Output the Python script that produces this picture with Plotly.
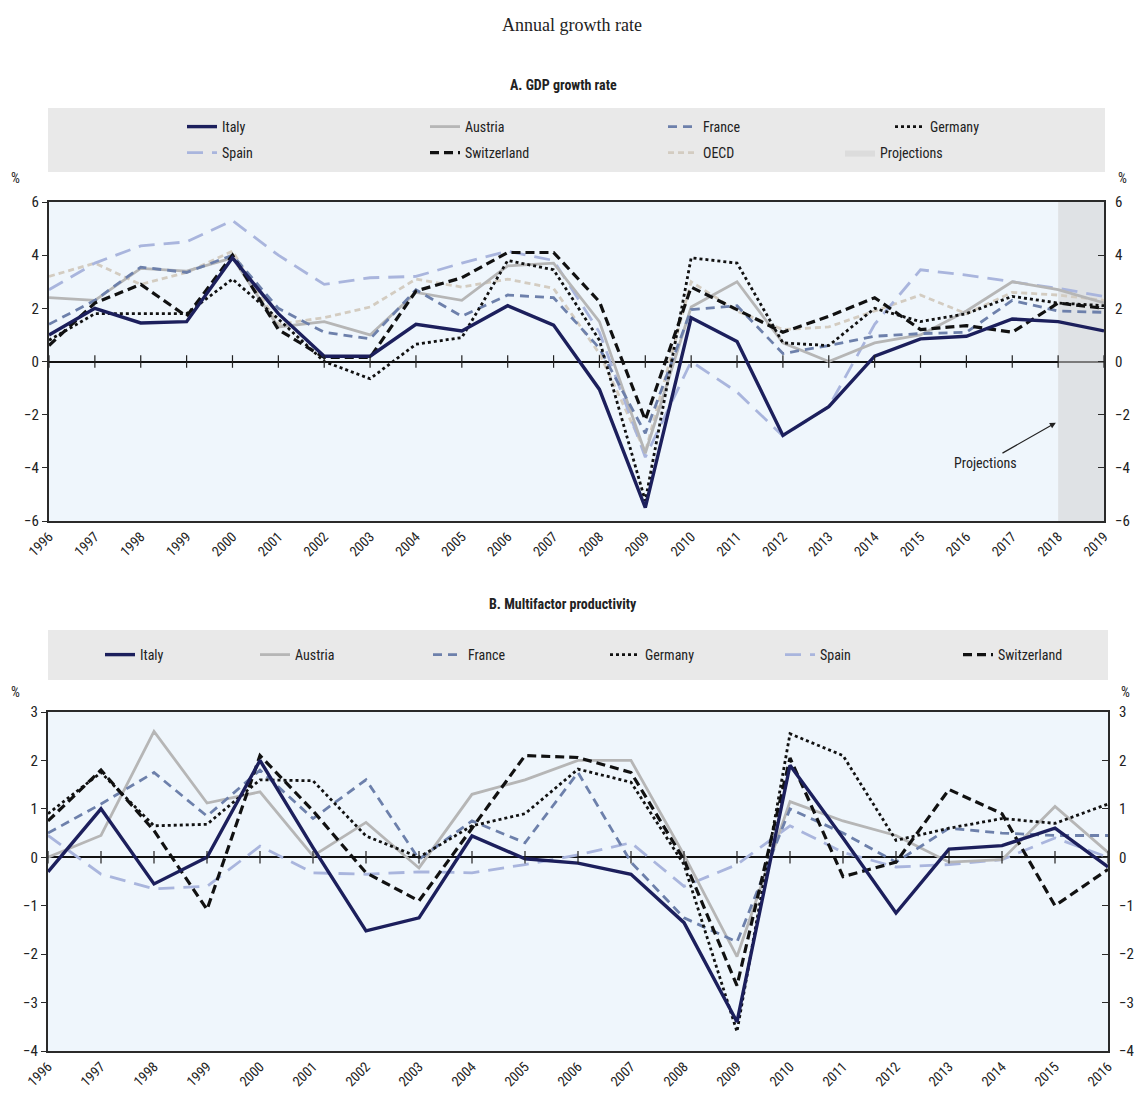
import plotly.graph_objects as go

# ---------------- data ----------------
years_gdp = list(range(1996, 2020))
years_mfp = list(range(1996, 2017))
proj_years = [2018, 2019]

italy_gdp = [1.0, 2.0, 1.45, 1.5, 3.9, 1.8, 0.2, 0.2, 1.4, 1.15, 2.1, 1.37, -1.05, -5.5, 1.65, 0.75, -2.78, -1.7, 0.2, 0.85, 0.95, 1.6, 1.5, 1.15]
austria_gdp = [2.4, 2.3, 3.5, 3.4, 3.9, 1.3, 1.5, 1.0, 2.6, 2.3, 3.6, 3.7, 1.5, -3.45, 2.05, 3.0, 0.7, 0.0, 0.7, 1.0, 1.9, 3.0, 2.7, 2.2]
france_gdp = [1.4, 2.3, 3.55, 3.35, 4.0, 2.0, 1.1, 0.85, 2.7, 1.7, 2.5, 2.4, 0.5, -2.7, 1.95, 2.1, 0.3, 0.6, 0.95, 1.05, 1.1, 2.3, 1.9, 1.85]
germany_gdp = [0.8, 1.8, 1.8, 1.8, 3.1, 1.6, 0.0, -0.65, 0.65, 0.9, 3.8, 3.45, 0.8, -5.25, 3.9, 3.7, 0.7, 0.6, 2.0, 1.5, 1.8, 2.45, 2.2, 2.1]
spain_gdp = [2.7, 3.7, 4.35, 4.5, 5.3, 4.0, 2.9, 3.15, 3.2, 3.7, 4.15, 3.8, 1.1, -3.6, 0.0, -1.15, -2.8, -1.7, 1.4, 3.45, 3.25, 3.0, 2.75, 2.45]
switzerland_gdp = [0.6, 2.2, 2.9, 1.7, 4.0, 1.2, 0.15, 0.15, 2.65, 3.15, 4.1, 4.1, 2.25, -2.2, 2.8, 1.95, 1.1, 1.7, 2.4, 1.2, 1.35, 1.1, 2.2, 2.0]
oecd_gdp = [3.2, 3.7, 2.9, 3.35, 4.15, 1.4, 1.65, 2.05, 3.1, 2.8, 3.1, 2.75, 0.3, -3.4, 3.0, 1.9, 1.2, 1.3, 1.9, 2.5, 1.8, 2.6, 2.5, 2.3]

italy_mfp = [-0.3, 1.0, -0.55, 0.0, 2.0, 0.2, -1.52, -1.25, 0.44, -0.03, -0.12, -0.35, -1.35, -3.4, 1.9, 0.4, -1.15, 0.17, 0.24, 0.6, -0.2]
austria_mfp = [0.0, 0.45, 2.6, 1.12, 1.35, 0.03, 0.72, -0.22, 1.3, 1.6, 2.0, 2.0, 0.05, -2.05, 1.15, 0.75, 0.45, -0.1, -0.05, 1.05, 0.1]
france_mfp = [0.5, 1.1, 1.75, 0.85, 1.8, 0.8, 1.6, -0.04, 0.75, 0.3, 1.75, -0.1, -1.25, -1.75, 1.0, 0.5, -0.1, 0.6, 0.5, 0.45, 0.45]
germany_mfp = [0.9, 1.75, 0.65, 0.68, 1.6, 1.58, 0.44, 0.0, 0.65, 0.9, 1.82, 1.55, -0.15, -3.6, 2.55, 2.1, 0.35, 0.6, 0.8, 0.7, 1.1]
spain_mfp = [0.45, -0.35, -0.65, -0.6, 0.23, -0.32, -0.35, -0.3, -0.32, -0.15, 0.05, 0.3, -0.6, -0.15, 0.65, 0.1, -0.2, -0.15, -0.05, 0.4, 0.0]
switzerland_mfp = [0.75, 1.8, 0.55, -1.08, 2.1, 0.96, -0.32, -0.9, 0.6, 2.1, 2.06, 1.75, -0.05, -2.65, 2.05, -0.4, -0.1, 1.4, 0.9, -1.0, -0.25]

gdp_range = [-6, 6]
mfp_range = [-4, 3]

# ---------------- geometry helpers (page pixels -> paper) ----------------
OFF = 8                      # default body margin of the html page
W, H = 1145 - 2 * OFF, 1101 - 2 * OFF
ML = 48 - OFF
MR = W - (1108 - OFF)
PW = W - ML - MR


def px_x(p):
    return (p - OFF - ML) / PW


def px_y(p):
    return 1 - (p - OFF) / H


NARROW = "Liberation Sans Narrow, Arial Narrow, Roboto Condensed, Liberation Sans, Arial, sans-serif"
SERIF = "Liberation Serif, Times New Roman, DejaVu Serif, serif"

styles = {
    "Italy": dict(color="#1c1f5c", width=3.4, dash="solid"),
    "Austria": dict(color="#b6b6b6", width=2.8, dash="solid"),
    "France": dict(color="#6d80ab", width=2.8, dash="9px,6px"),
    "Germany": dict(color="#111111", width=2.8, dash="dot"),
    "Spain": dict(color="#a9b5dd", width=2.8, dash="16px,9px"),
    "Switzerland": dict(color="#111111", width=3.2, dash="9px,5px"),
    "OECD": dict(color="#d3ccc1", width=2.8, dash="6px,4px"),
}

fig = go.Figure()

# projections shading (panel A)
fig.add_trace(go.Scatter(
    x=[proj_years[0], proj_years[1], proj_years[1], proj_years[0], proj_years[0]],
    y=[gdp_range[0], gdp_range[0], gdp_range[1], gdp_range[1], gdp_range[0]],
    fill="toself", fillcolor="rgba(210,210,210,0.55)", mode="lines",
    line=dict(width=0, color="rgba(0,0,0,0)"), name="Projections",
    legend="legend2", legendrank=4, legendwidth=100, xaxis="x", yaxis="y", hoverinfo="skip"))

# name, values, legend, rank, entry width
gdp_series = [
    ("OECD", oecd_gdp, "legend2", 3, 132),
    ("Spain", spain_gdp, "legend2", 1, 198),
    ("Austria", austria_gdp, "legend", 2, 193),
    ("France", france_gdp, "legend", 3, 182),
    ("Switzerland", switzerland_gdp, "legend2", 2, 193),
    ("Germany", germany_gdp, "legend", 4, 191),
    ("Italy", italy_gdp, "legend", 1, 198),
]
for name, vals, leg, rank, lw in gdp_series:
    fig.add_trace(go.Scatter(x=years_gdp, y=vals, mode="lines", name=name,
                             line=styles[name], legend=leg, legendrank=rank, legendwidth=lw,
                             xaxis="x", yaxis="y"))

mfp_series = [
    ("Spain", spain_mfp, 5, 133),
    ("Austria", austria_mfp, 2, 128),
    ("France", france_mfp, 3, 132),
    ("Germany", germany_mfp, 4, 130),
    ("Switzerland", switzerland_mfp, 6, 110),
    ("Italy", italy_mfp, 1, 110),
]
for name, vals, rank, lw in mfp_series:
    fig.add_trace(go.Scatter(x=years_mfp, y=vals, mode="lines", name=name,
                             line=styles[name], legend="legend3", legendrank=rank, legendwidth=lw,
                             xaxis="x2", yaxis="y2"))

# small ticks along the zero lines (on the right-hand axes)
tick_marker = dict(symbol="line-ns-open", size=9, color="#222", line=dict(width=1.2, color="#222"))
fig.add_trace(go.Scatter(x=years_gdp, y=[0] * len(years_gdp), mode="markers", marker=tick_marker,
                         showlegend=False, hoverinfo="skip", xaxis="x", yaxis="y3"))
fig.add_trace(go.Scatter(x=years_mfp, y=[0] * len(years_mfp), mode="markers", marker=tick_marker,
                         showlegend=False, hoverinfo="skip", xaxis="x2", yaxis="y4"))

axis_line = dict(showline=True, linecolor="#2a2a2a", linewidth=2, showgrid=False)
tickfont_y = dict(family=NARROW, size=15, color="#222")
tickfont_x = dict(family=NARROW, size=14, color="#222")

legend_common = dict(orientation="h", xanchor="left", yanchor="middle",
                     bgcolor="rgba(0,0,0,0)", borderwidth=0,
                     font=dict(family=NARROW, size=14, color="#222"),
                     entrywidthmode="pixels")

fig.update_layout(
    width=W, height=H,
    margin=dict(l=ML, r=MR, t=0, b=0, autoexpand=False),
    paper_bgcolor="white", plot_bgcolor="#eff6fc",
    xaxis=dict(domain=[px_x(49), px_x(1104)], range=[years_gdp[0], years_gdp[-1]], anchor="y",
               tickvals=years_gdp, ticktext=[str(y) for y in years_gdp], tickangle=-45,
               ticks="", mirror=True, zeroline=False, tickfont=tickfont_x, automargin=False, **axis_line),
    yaxis=dict(domain=[px_y(521), px_y(202)], range=gdp_range, dtick=2, anchor="x",
               ticks="outside", ticklen=5, tickcolor="#2a2a2a", mirror=True,
               zeroline=True, zerolinecolor="#111", zerolinewidth=1.6,
               tickfont=tickfont_y, automargin=False, **axis_line),
    yaxis3=dict(overlaying="y", side="right", anchor="x", range=gdp_range, dtick=2,
                ticks="inside", ticklen=6, tickcolor="#2a2a2a", showgrid=False, zeroline=False,
                showline=False, tickfont=tickfont_y, ticklabelstandoff=10, automargin=False),
    xaxis2=dict(domain=[px_x(48), px_x(1108)], range=[years_mfp[0], years_mfp[-1]], anchor="y2",
                tickvals=years_mfp, ticktext=[str(y) for y in years_mfp], tickangle=-45,
                ticks="", mirror=True, zeroline=False, tickfont=tickfont_x, automargin=False, **axis_line),
    yaxis2=dict(domain=[px_y(1051), px_y(712)], range=mfp_range, dtick=1, anchor="x2",
                ticks="outside", ticklen=5, tickcolor="#2a2a2a", mirror=True,
                zeroline=True, zerolinecolor="#111", zerolinewidth=1.6,
                tickfont=tickfont_y, automargin=False, **axis_line),
    yaxis4=dict(overlaying="y2", side="right", anchor="x2", range=mfp_range, dtick=1,
                ticks="inside", ticklen=6, tickcolor="#2a2a2a", showgrid=False, zeroline=False,
                showline=False, tickfont=tickfont_y, ticklabelstandoff=10, automargin=False),
    legend=dict(x=px_x(182), y=px_y(127), **legend_common),
    legend2=dict(x=px_x(182), y=px_y(153), **legend_common),
    legend3=dict(x=px_x(100), y=px_y(655), **legend_common),
    shapes=[
        dict(type="rect", xref="paper", yref="paper", x0=px_x(48), x1=px_x(1105),
             y0=px_y(172), y1=px_y(108), fillcolor="#e9e9e9", line=dict(width=0), layer="below"),
        dict(type="rect", xref="paper", yref="paper", x0=px_x(48), x1=px_x(1108),
             y0=px_y(680), y1=px_y(630), fillcolor="#e9e9e9", line=dict(width=0), layer="below"),
    ],
    showlegend=True,
)

ann_font = dict(family=NARROW, size=14, color="#222")
annotations = [
    dict(text="Annual growth rate", x=px_x(572), y=px_y(25), font=dict(family=SERIF, size=18, color="#222")),
    dict(text="<b>A. GDP growth rate</b>", x=px_x(563), y=px_y(85), font=dict(family=NARROW, size=14, color="#222")),
    dict(text="<b>B. Multifactor productivity</b>", x=px_x(563), y=px_y(604), font=dict(family=NARROW, size=14, color="#222")),
    dict(text="%", x=px_x(15), y=px_y(178), font=ann_font),
    dict(text="%", x=px_x(1122), y=px_y(178), font=ann_font),
    dict(text="%", x=px_x(15), y=px_y(692), font=ann_font),
    dict(text="%", x=px_x(1125), y=px_y(692), font=ann_font),
]
for a in annotations:
    fig.add_annotation(xref="paper", yref="paper", showarrow=False, xanchor="center", yanchor="middle", **a)

fig.add_annotation(xref="x", yref="y", x=2017.95, y=-2.3, ax=-70, ay=40, text="Projections",
                   showarrow=True, arrowhead=2, arrowsize=1, arrowwidth=1.2, arrowcolor="#222",
                   font=ann_font)

fig.write_html("out.html")
